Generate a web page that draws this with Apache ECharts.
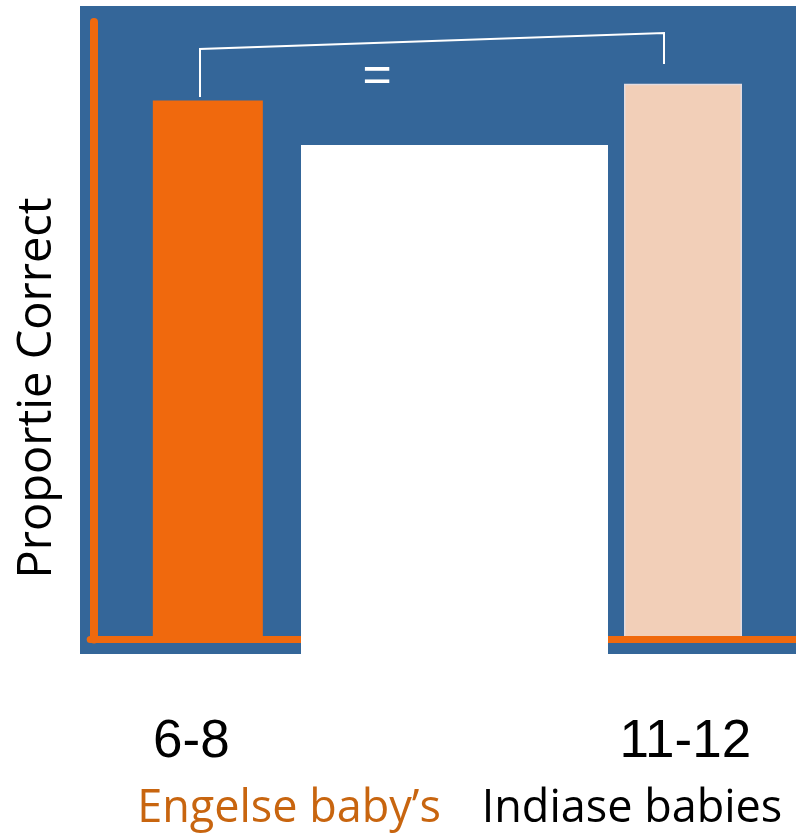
<!DOCTYPE html>
<html>
<head>
<meta charset="utf-8">
<script src="https://cdn.jsdelivr.net/npm/echarts@6/dist/echarts.min.js"></script>
<style>
html,body{margin:0;padding:0;background:#fff;}
#c{width:796px;height:834px;}
</style>
</head>
<body>
<div id="c"></div>
<script>
// ---- data ----
var categories = ['6-8', '', '11-12'];
var englishValues = [0.873, null, null];
var indianCategory = ['11-12'];
var indianValues = [0.900];
var groupNames = ["Engelse baby\u2019s", 'Indiase babies'];
var groupColors = ['#C8650F', '#000000'];
var yAxisTitle = 'Proportie Correct';
var equalSign = '=';

var chart = echarts.init(document.getElementById('c'), null, {renderer: 'canvas'});

var option = {
  backgroundColor: '#ffffff',
  animation: false,
  grid: [
    {left: 90.2, top: 22, right: 0, height: 617.5},
    {left: 624, top: 22, width: 118, height: 617.5}
  ],
  xAxis: [{
    type: 'category',
    gridIndex: 0,
    data: categories,
    z: 10,
    axisLine: {show: true, lineStyle: {color: '#F0690D', width: 7}},
    axisTick: {show: false},
    splitLine: {show: false},
    axisLabel: {
      margin: 76,
      interval: 0,
      color: '#000',
      fontFamily: 'Liberation Sans',
      fontSize: 53,
      formatter: function (v, i) {
        if (i === 0) return '{l|' + v + '}';
        if (i === 2) return '{r|' + v + '}';
        return v;
      },
      rich: {
        l: {fontFamily: 'Liberation Sans', fontSize: 53, color: '#000', padding: [0, 33, 0, 0]},
        r: {fontFamily: 'Liberation Sans', fontSize: 53, color: '#000', padding: [0, 0, 0, 14]}
      }
    }
  }, {
    type: 'category',
    gridIndex: 1,
    data: indianCategory,
    show: false
  }],
  yAxis: [{
    type: 'value',
    gridIndex: 0,
    min: 0,
    max: 1,
    offset: -3.8,
    z: 10,
    axisLine: {show: true, lineStyle: {color: '#F0690D', width: 8}},
    axisTick: {show: false},
    axisLabel: {show: false},
    splitLine: {show: false}
  }, {
    type: 'value',
    gridIndex: 1,
    min: 0,
    max: 1,
    show: false,
    splitLine: {show: false}
  }],
  series: [{
    type: 'bar',
    xAxisIndex: 0,
    yAxisIndex: 0,
    data: englishValues,
    barWidth: 110,
    itemStyle: {color: '#F0690D'}
  }, {
    type: 'bar',
    xAxisIndex: 1,
    yAxisIndex: 1,
    data: indianValues,
    barWidth: 118,
    itemStyle: {color: '#F2CFB8', borderColor: '#E4DCE0', borderWidth: 1.5}
  }],
  graphic: {
    elements: [
      {type: 'rect', z: -10, silent: true, shape: {x: 80, y: 6, width: 716, height: 648}, style: {fill: '#346699'}},
      {type: 'rect', z: 100, silent: true, shape: {x: 301, y: 145, width: 307, height: 540}, style: {fill: '#ffffff'}},
      {type: 'polyline', z: 100, silent: true, shape: {points: [[200, 97], [200, 49], [664, 33], [664, 64]]}, style: {stroke: '#ffffff', lineWidth: 2, fill: null}},
      {type: 'text', z: 100, silent: true, x: 377, y: 77, style: {text: equalSign, fill: '#ffffff', font: '50px "Liberation Sans"', textAlign: 'center', textVerticalAlign: 'middle'}},
      {type: 'text', z: 100, silent: true, x: 37.5, y: 388, rotation: Math.PI / 2, style: {text: yAxisTitle, fill: '#000', font: '47px "Open Sans"', textAlign: 'center', textVerticalAlign: 'middle'}},
      {type: 'text', z: 100, silent: true, x: 289, y: 809, style: {text: groupNames[0], fill: groupColors[0], font: '45px "Open Sans"', textAlign: 'center', textVerticalAlign: 'middle'}},
      {type: 'text', z: 100, silent: true, x: 632, y: 809, style: {text: groupNames[1], fill: groupColors[1], font: '45px "Open Sans"', textAlign: 'center', textVerticalAlign: 'middle'}}
    ]
  }
};
chart.setOption(option);
</script>
</body>
</html>
